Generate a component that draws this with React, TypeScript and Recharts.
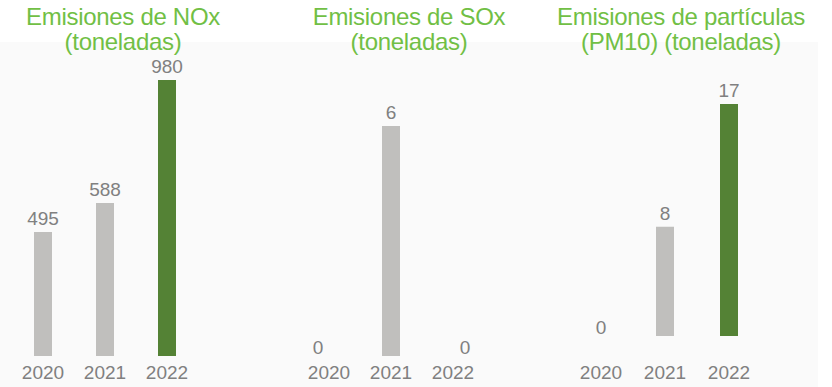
import { ComposedChart, Bar, Line, XAxis, YAxis, Cell } from 'recharts';

const years = ['2020', '2021', '2022'];
const noxValues = [495, 588, 980];
const soxValues = [0, 6, 0];
const pm10Values = [0, 8, 17];

const GRAY = '#c0bfbd';
const GREEN = '#548235';
const TITLE = '#71bf45';
const TEXT = '#808080';
const FONT = '"Liberation Sans", Arial, sans-serif';

type PanelProps = {
  values: number[];
  colors: string[];
  left: number;
  width: number;
  top: number;
  base: number;
  domain: [number, number];
  tickMargin: number;
  zeroShift?: number[];
};

function Panel({ values, colors, left, width, top, base, domain, tickMargin, zeroShift }: PanelProps) {
  const data = years.map((year, i) => ({ year, value: values[i] }));

  // value labels above the bars
  const barLabel = (p: any) => {
    const { x, y, width: w, value } = p;
    if (!value) return null;
    return (
      <text x={Number(x) + Number(w) / 2} y={Number(y) - 7} textAnchor="middle" fill={TEXT} fontSize={19} fontFamily={FONT}>
        {value}
      </text>
    );
  };

  // zero-height bars draw nothing, so their "0" comes from an invisible line
  const zeroLabel = (p: any) => {
    const { x, y, value, index } = p;
    if (value !== 0) return null;
    const dx = zeroShift ? zeroShift[index] : 0;
    return (
      <text key={index} x={Number(x) + dx} y={Number(y) - 2} textAnchor="middle" fill={TEXT} fontSize={19} fontFamily={FONT}>
        0
      </text>
    );
  };

  return (
    <div style={{ position: 'absolute', left, top: 0 }}>
      <ComposedChart width={width} height={387} data={data} margin={{ top, right: 0, left: 0, bottom: 0 }}>
        <XAxis
          dataKey="year"
          height={387 - base}
          axisLine={false}
          tickLine={false}
          tickMargin={tickMargin}
          interval={0}
          tick={{ fill: TEXT, fontSize: 19, fontFamily: FONT }}
        />
        <YAxis hide type="number" domain={domain} allowDataOverflow />
        <Bar dataKey="value" barSize={18} isAnimationActive={false} label={barLabel}>
          {data.map((d, i) => (
            <Cell key={d.year} fill={colors[i]} />
          ))}
        </Bar>
        <Line
          dataKey="value"
          stroke="none"
          dot={false}
          activeDot={false}
          isAnimationActive={false}
          label={zeroLabel}
        />
      </ComposedChart>
    </div>
  );
}

function Title({ lines, center }: { lines: string[]; center: number }) {
  return (
    <div
      style={{
        position: 'absolute',
        left: center - 150,
        top: 4,
        width: 300,
        textAlign: 'center',
        color: TITLE,
        fontFamily: FONT,
        fontSize: 24,
        lineHeight: '25px',
        letterSpacing: -0.3,
      }}
    >
      {lines.map((l) => (
        <div key={l}>{l}</div>
      ))}
    </div>
  );
}

export default function App() {
  return (
    <div style={{ position: 'fixed', left: 0, top: 0, width: 832, height: 387, background: '#ffffff', overflow: 'hidden' }}>
      <div style={{ position: 'absolute', left: 0, top: 42, width: 818, height: 345, background: '#fafafa' }} />

      <Panel
        values={noxValues}
        colors={[GRAY, GRAY, GREEN]}
        left={12}
        width={186}
        top={80}
        base={356}
        domain={[100, 980]}
        tickMargin={4}
      />
      <Panel
        values={soxValues}
        colors={[GRAY, GRAY, GRAY]}
        left={298}
        width={186}
        top={126}
        base={356}
        domain={[0, 6]}
        tickMargin={4}
        zeroShift={[-11, 0, 12]}
      />
      <Panel
        values={pm10Values}
        colors={[GRAY, GRAY, GREEN]}
        left={569}
        width={192}
        top={104}
        base={336}
        domain={[0, 17]}
        tickMargin={24}
      />

      <Title lines={['Emisiones de NOx', '(toneladas)']} center={123} />
      <Title lines={['Emisiones de SOx', '(toneladas)']} center={409} />
      <Title lines={['Emisiones de partículas', '(PM10) (toneladas)']} center={681} />
    </div>
  );
}
